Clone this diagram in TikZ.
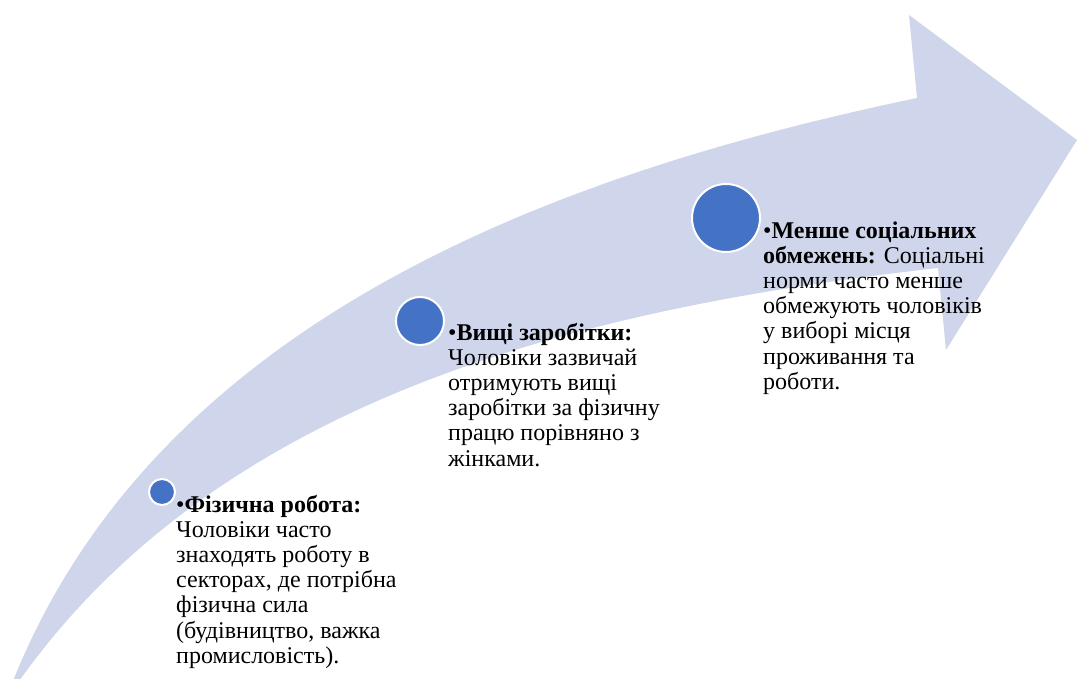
\documentclass[tikz,border=0pt]{standalone}
\usepackage{fontspec}
\setmainfont{Liberation Serif}
\definecolor{bandblue}{HTML}{CFD5EA}
\definecolor{dotblue}{HTML}{4472C4}
\tikzset{
  dot/.style={circle, fill=dotblue, draw=white, line width=2pt, inner sep=0pt},
  note/.style={anchor=base west, inner sep=0pt, align=left, font=\fontsize{24}{25.2}\selectfont}
}

\begin{document}
\begin{tikzpicture}[x=1pt, y=-1pt]
		%%%%% START %%%%%
		\useasboundingbox (0, 0) rectangle (1077, 679);
		
		% curved band with the arrow head
		\fill[bandblue] (13, 681) .. controls (160, 314) and (568, 171) .. (917, 98)
			-- (909, 15) -- (1077, 140) -- (946, 350) -- (938, 268)
			.. controls (604, 306) and (225, 388) .. (17, 684) -- cycle;
		
		\node[dot, minimum size=26pt] (work) at (162, 492) {};
		\node[dot, minimum size=48pt] (pay) at (420, 321) {};
		\node[dot, minimum size=68pt] (free) at (726, 218) {};
		
		% base anchor sits on the last line
		\node[note] (worktext) at (176, 663.2) {•\textbf{Фізична робота:}\\Чоловіки часто\\знаходять роботу в\\секторах, де потрібна\\фізична сила\\(будівництво, важка\\промисловість).};
		\node[note] (paytext) at (448, 466) {•\textbf{Вищі заробітки:}\\Чоловіки зазвичай\\отримують вищі\\заробітки за фізичну\\працю порівняно з\\жінками.};
		\node[note] (freetext) at (763, 389.2) {•\textbf{Менше соціальних}\\\textbf{обмежень:} Соціальні\\норми часто менше\\обмежують чоловіків\\у виборі місця\\проживання та\\роботи.};
		
		%%%%% END %%%%%
\end{tikzpicture}
\end{document}
